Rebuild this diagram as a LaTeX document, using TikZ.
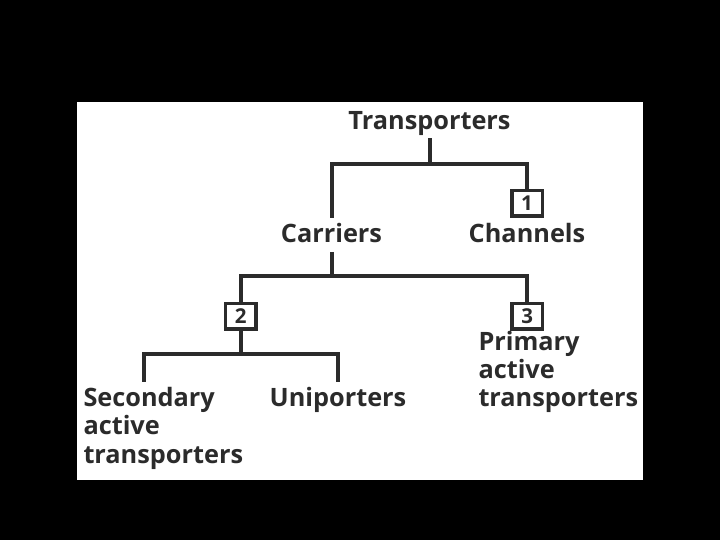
\documentclass[tikz,border=0pt]{standalone}
\usepackage{fontspec}
\newfontfamily\labfont{Open Sans}
\definecolor{ink}{rgb}{0.17,0.17,0.17}
\tikzset{
  lab/.style={font=\labfont\bfseries\fontsize{25.3}{28.3}\selectfont, text=ink, inner xsep=0pt, inner ysep=5pt, text height=19.5pt, text depth=4pt},
  mlab/.style={font=\labfont\bfseries\fontsize{25.3}{28.3}\selectfont, text=ink, inner sep=0pt, align=left},
  numbox/.style={draw=ink, line width=3.5pt, minimum width=30.5pt, minimum height=25.5pt, inner sep=0pt, font=\labfont\bfseries\fontsize{20.5}{22}\selectfont, text=ink},
  conn/.style={draw=ink, line width=4pt}
}
\begin{document}
\begin{tikzpicture}[x=1pt,y=-1pt]
\useasboundingbox (0,0) rectangle (720,540);
\fill[black] (0,0) rectangle (720,540);
\fill[white] (77,102) rectangle (643,480);
\node[lab, anchor=base] (T) at (429.5,129.3) {Transporters};
\node[lab, anchor=base] (car) at (331.5,242.7) {Carriers};
\node[lab, anchor=base] (chan) at (527,242.7) {Channels};
\node[numbox] (b1) at (527,203.3) {1};
\node[numbox] (b2) at (240.8,316.2) {2};
\node[numbox] (b3) at (527.3,316.2) {3};
\node[lab, anchor=base] (uni) at (338,406.7) {Uniporters};
\node[mlab, anchor=base west] (sec) at (83.3,463) {Secondary\\active\\transporters};
\node[mlab, anchor=base west] (prim) at (478.3,406.7) {Primary\\active\\transporters};
\coordinate (j1) at (429.5,164);
\coordinate (j2) at (332,276);
\coordinate (j3) at (240.8,354);
\coordinate (s1) at (144,381.7);
\draw[conn] (T.south) -- (j1);
\draw[conn] (car.north -| j2) |- (j1) -| (b1.north);
\draw[conn] (car.south -| j2) -- (j2);
\draw[conn] (b2.north) |- (j2) -| (b3.north);
\draw[conn] (b2.south) -- (j3);
\draw[conn] (s1) |- (j3) -| (uni.north);
\end{tikzpicture}
\end{document}
